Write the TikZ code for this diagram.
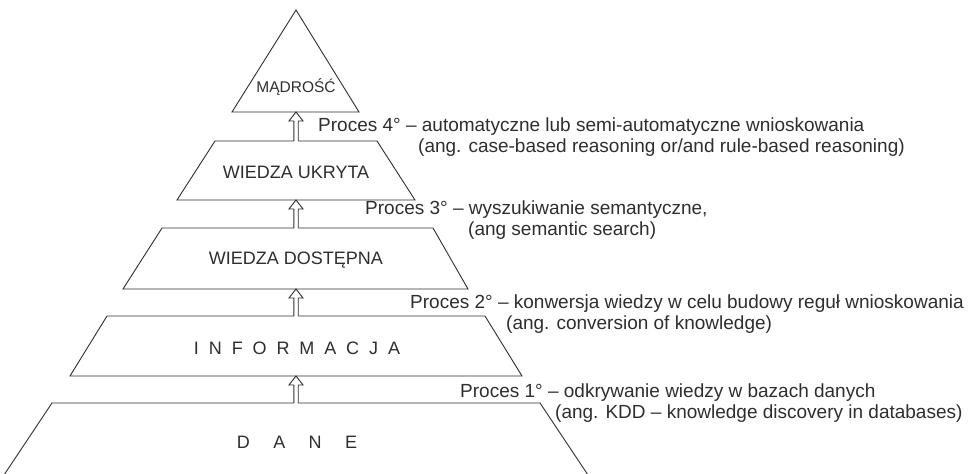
\documentclass[tikz,border=0pt]{standalone}
\usepackage{fontspec}
\setmainfont{Liberation Sans}
\usetikzlibrary{calc}
\definecolor{ink}{HTML}{2E2E2E}
\tikzset{
  outl/.style={draw=ink, line width=0.9pt, line join=miter},
  lbl/.style={inner sep=0pt, text=ink, font=\fontsize{18}{20}\selectfont},
  proc/.style={inner sep=0pt, anchor=base west, text=ink, font=\fontsize{19}{21}\selectfont},
}
\newcommand\hollowup[2]{%
  \fill[white] let \p1=(#1), \p2=(#2) in
    (\x1-2.2pt,\y1-0.8pt) -- (\x1-2.2pt,\y2-9pt) -- (\x1-7pt,\y2-9pt) -- (\x2,\y2)
    -- (\x1+7pt,\y2-9pt) -- (\x1+2.2pt,\y2-9pt) -- (\x1+2.2pt,\y1-0.8pt) -- cycle;
  \draw[outl] let \p1=(#1), \p2=(#2) in
    (\x1-2.2pt,\y1) -- (\x1-2.2pt,\y2-9pt) -- (\x1-7pt,\y2-9pt) -- (\x2,\y2)
    -- (\x1+7pt,\y2-9pt) -- (\x1+2.2pt,\y2-9pt) -- (\x1+2.2pt,\y1);
}
\begin{document}
\begin{tikzpicture}[x=1pt,y=-1pt]
\useasboundingbox (0,0) rectangle (978,474);
% shapes
\draw[outl] (296,10) -- (359,112) -- (232,112) -- cycle;
\draw[outl] (215,141) -- (377,141) -- (415,200) -- (177,200) -- cycle;
\draw[outl] (162,228) -- (433,228) -- (468,289) -- (123,289) -- cycle;
\draw[outl] (107,316) -- (485,316) -- (522,376) -- (70,376) -- cycle;
\draw[outl] (2,478) -- (52,403) -- (540,403) -- (590,478);
% anchor coordinates
\coordinate (madB) at (296,112);
\coordinate (ukrT) at (296,141);
\coordinate (ukrB) at (296,200);
\coordinate (dosT) at (296,228);
\coordinate (dosB) at (296,289);
\coordinate (infT) at (296,316);
\coordinate (infB) at (296,376);
\coordinate (danT) at (296,403);
% arrows
\hollowup{ukrT}{madB}
\hollowup{dosT}{ukrB}
\hollowup{infT}{dosB}
\hollowup{danT}{infB}
% labels
\node[lbl, font=\fontsize{15.5}{18}\selectfont] (mad) at (296,87) {MĄDROŚĆ};
\node[lbl] (ukr) at (296,172) {WIEDZA UKRYTA};
\node[lbl] (dos) at (296,260) {WIEDZA DOSTĘPNA};
\node[lbl] (inf) at (297,348) {I\hspace{0.55em}N\hspace{0.55em}F\hspace{0.55em}O\hspace{0.55em}R\hspace{0.55em}M\hspace{0.55em}A\hspace{0.55em}C\hspace{0.55em}J\hspace{0.55em}A};
\node[lbl] (dan) at (297,442) {D\hspace{1.3em}A\hspace{1.3em}N\hspace{1.3em}E};
% process texts
\node[proc] (p4a) at (318,131) {Proces 4° – automatyczne lub semi-automatyczne wnioskowania};
\node[proc] (p4b) at (418,152) {(ang. case-based reasoning or/and rule-based reasoning)};
\node[proc] (p3a) at (365,214) {Proces 3° – wyszukiwanie semantyczne,};
\node[proc] (p3b) at (468,235) {(ang semantic search)};
\node[proc] (p2a) at (410,308) {Proces 2° – konwersja wiedzy w celu budowy reguł wnioskowania};
\node[proc] (p2b) at (506,329) {(ang. conversion of knowledge)};
\node[proc] (p1a) at (460,397) {Proces 1° – odkrywanie wiedzy w bazach danych};
\node[proc] (p1b) at (555,418) {(ang. KDD – knowledge discovery in databases)};
\end{tikzpicture}
\end{document}
